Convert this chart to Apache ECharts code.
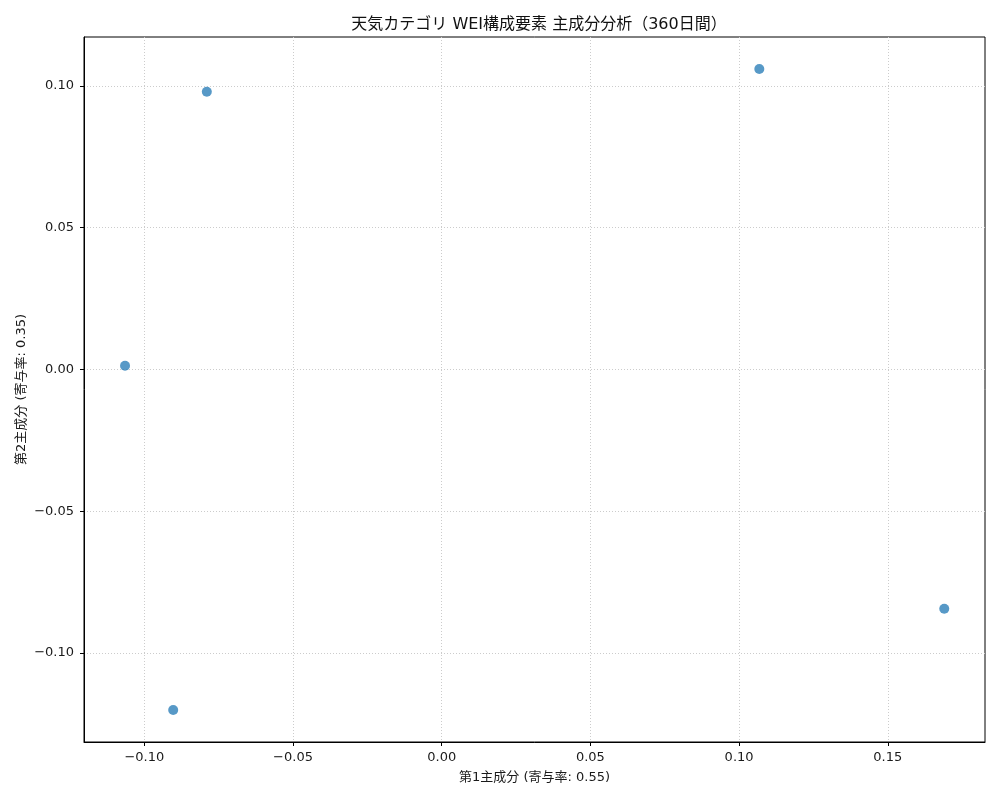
<!DOCTYPE html>
<html>
<head>
<meta charset="utf-8">
<script src="https://cdn.jsdelivr.net/npm/echarts@6/dist/echarts.min.js"></script>
<style>html,body{margin:0;padding:0;background:#fff}#c{width:1000px;height:800px}</style>
</head>
<body>
<div id="c"></div>
<script>
const pc1 = [-0.0790, 0.1068, -0.1065, 0.1690, -0.0903];
const pc2 = [0.0979, 0.1059, 0.0013, -0.0844, -0.1201];
const xTicks = [-0.10, -0.05, 0.00, 0.05, 0.10, 0.15];
const yTicks = [-0.10, -0.05, 0.00, 0.05, 0.10];
const titleText = '天気カテゴリ WEI構成要素 主成分分析（360日間）';
const xName = '第1主成分 (寄与率: 0.55)';
const yName = '第2主成分 (寄与率: 0.35)';

const font = '"DejaVu Sans", "Noto Sans CJK JP", sans-serif';
const fmt = v => v.toFixed(2).replace('-', '\u2212').replace('\u22120.00', '0.00');
const points = pc1.map((x, i) => [x, pc2[i]]);

const chart = echarts.init(document.getElementById('c'), null, {renderer: 'canvas'});
const axisCommon = {
  axisLine: {show: true, onZero: false, lineStyle: {color: '#000', width: 1}},
  axisTick: {show: true, length: 4, lineStyle: {color: '#000'}},
  axisLabel: {color: '#1a1a1a', fontSize: 13, fontFamily: font, formatter: fmt},
  splitLine: {show: true, lineStyle: {color: '#cccccc', type: [1, 2], width: 1}},
  nameLocation: 'middle',
  nameMoveOverlap: false,
  nameTextStyle: {color: '#1a1a1a', fontSize: 13, fontFamily: font}
};
chart.setOption({
  animation: false,
  backgroundColor: '#fff',
  title: {
    text: titleText, left: 534, top: 12, textAlign: 'center',
    textStyle: {fontSize: 16, fontWeight: 'normal', color: '#111', fontFamily: font}
  },
  grid: {left: 84, right: 15, top: 37, bottom: 58, show: true, borderColor: '#000', borderWidth: 1, backgroundColor: 'transparent'},
  xAxis: Object.assign({}, axisCommon, {
    type: 'value', min: -0.1203, max: 0.1827, name: xName, nameGap: 29,
    axisTick: Object.assign({}, axisCommon.axisTick, {customValues: xTicks}),
    axisLabel: Object.assign({}, axisCommon.axisLabel, {customValues: xTicks, margin: 9})
  }),
  yAxis: Object.assign({}, axisCommon, {
    type: 'value', min: -0.1314, max: 0.1172, name: yName, nameGap: 56,
    axisTick: Object.assign({}, axisCommon.axisTick, {customValues: yTicks}),
    axisLabel: Object.assign({}, axisCommon.axisLabel, {customValues: yTicks, margin: 10})
  }),
  series: [{
    type: 'scatter', data: points, symbolSize: 10,
    itemStyle: {color: '#1f77b4', opacity: 0.75}
  }]
});
</script>
</body>
</html>
